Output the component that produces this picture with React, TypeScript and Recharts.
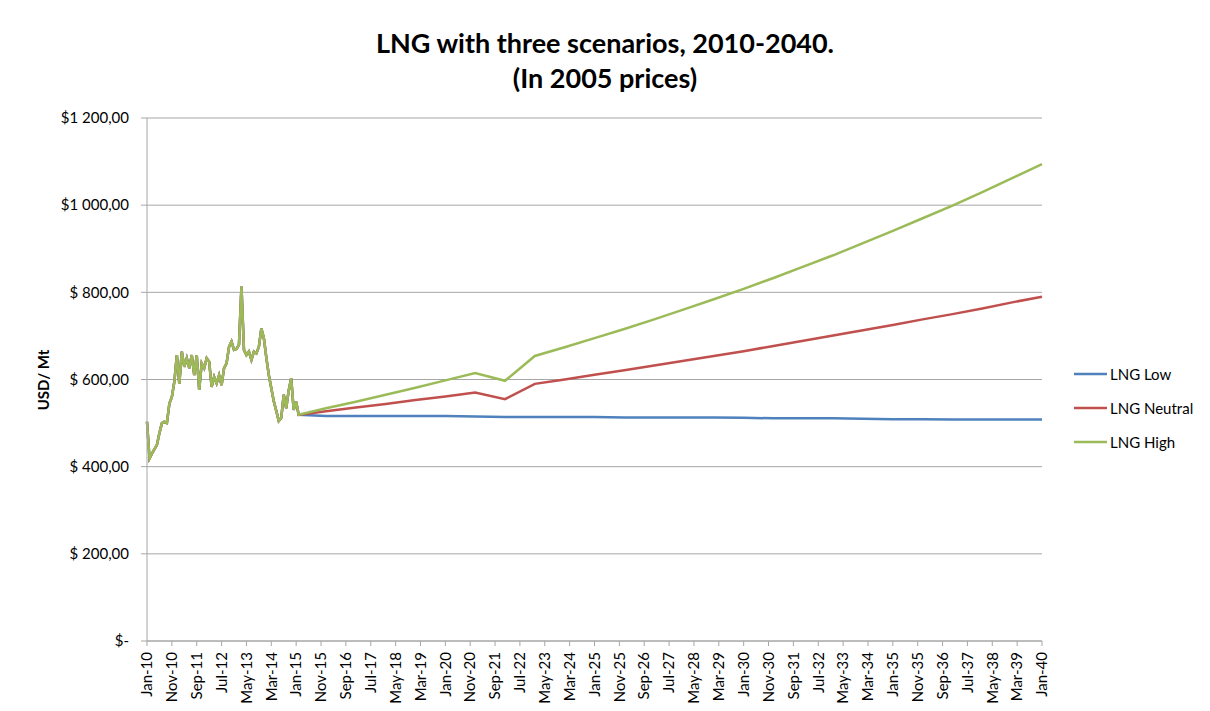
import React from 'react';
import { LineChart, Line, XAxis, YAxis, CartesianGrid } from 'recharts';

// monthly LNG price Jan-10 .. Feb-15 (USD/Mt, 2005 prices), same for all scenarios
const historyPrices = [
  503, 419, 430, 440, 450, 477, 500, 503, 500, 545,
  560, 595, 656, 590, 664, 629, 649, 626, 656, 610,
  656, 576, 637, 626, 649, 641, 583, 606, 591, 610,
  587, 626, 637, 675, 687, 668, 670, 680, 813, 668,
  656, 664, 645, 664, 660, 675, 717, 695, 650, 610,
  580, 550, 528, 505, 512, 565, 534, 575, 603, 530,
  549, 519,
];

// scenario values each January
const projectionYears = [
  2016, 2017, 2018, 2019, 2020, 2021, 2022, 2023, 2024, 2025,
  2026, 2027, 2028, 2029, 2030, 2031, 2032, 2033, 2034, 2035,
  2036, 2037, 2038, 2039, 2040,
];
const lowProjection = [
  516, 516, 516, 516, 516, 515, 514, 514, 514, 514,
  513, 513, 513, 513, 512, 511, 511, 511, 510, 509,
  509, 508, 508, 508, 508,
];
const neutralProjection = [
  527, 536, 544, 553, 561, 570, 555, 590, 600, 611,
  621, 632, 643, 654, 665, 677, 689, 701, 713, 725,
  738, 750, 763, 777, 790,
];
const highProjection = [
  534, 549, 565, 581, 598, 615, 597, 654, 674, 695,
  716, 738, 761, 784, 808, 833, 859, 885, 913, 941,
  970, 999, 1030, 1062, 1094,
];

const yTicks = [0, 200, 400, 600, 800, 1000, 1200];
const xTicks = Array.from({ length: 37 }, (_, i) => i * 10);
const monthNames = ['Jan', 'Feb', 'Mar', 'Apr', 'May', 'Jun', 'Jul', 'Aug', 'Sep', 'Oct', 'Nov', 'Dec'];

const series = [
  { key: 'low', name: 'LNG Low', color: '#4f81bd' },
  { key: 'neutral', name: 'LNG Neutral', color: '#c0504d' },
  { key: 'high', name: 'LNG High', color: '#9bbb59' },
];

const data = [
  ...historyPrices.map((v, i) => ({ m: i, low: v, neutral: v, high: v })),
  ...projectionYears.map((y, i) => ({
    m: (y - 2010) * 12,
    low: lowProjection[i],
    neutral: neutralProjection[i],
    high: highProjection[i],
  })),
];

const FONT = 'Lato, "Open Sans", sans-serif';

const monthLabel = (m: number) => `${monthNames[m % 12]}-${10 + Math.floor(m / 12)}`;

const priceLabel = (v: number) => {
  if (v === 0) return '$-';
  if (v >= 1000) return `$${Math.floor(v / 1000)} ${String(v % 1000).padStart(3, '0')},00`;
  return `$ ${v},00`;
};

const XTick = (props: any) => {
  const { x, y, payload } = props;
  return (
    <text
      x={x}
      y={y}
      dy="0.35em"
      textAnchor="end"
      transform={`rotate(-90, ${x}, ${y})`}
      fontSize={15}
      fontFamily={FONT}
      fill="#000"
    >
      {monthLabel(payload.value)}
    </text>
  );
};

const App: React.FC = () => {
  return (
    <div style={{ position: 'absolute', left: 0, top: 0, width: 1210, height: 711, background: '#fff', fontFamily: FONT }}>
      <div style={{ position: 'absolute', left: 0, top: 25, width: 1210, textAlign: 'center', fontSize: 27, fontWeight: 700, lineHeight: '35px' }}>
        LNG with three scenarios, 2010-2040.
        <br />
        (In 2005 prices)
      </div>
      <div
        style={{
          position: 'absolute',
          left: 43,
          top: 380,
          transform: 'translate(-50%, -50%) rotate(-90deg)',
          fontSize: 15,
          fontWeight: 700,
          whiteSpace: 'nowrap',
        }}
      >
        USD/ Mt
      </div>

      <LineChart width={1210} height={711} data={data} margin={{ top: 118, right: 168, bottom: 0, left: 47 }}>
        <CartesianGrid vertical={false} stroke="#a6a6a6" />
        <XAxis
          type="number"
          dataKey="m"
          domain={[0, 360]}
          ticks={xTicks}
          interval={0}
          height={70}
          tickSize={5}
          tickMargin={6}
          tick={<XTick />}
          stroke="#a6a6a6"
        />
        <YAxis
          domain={[0, 1200]}
          ticks={yTicks}
          width={100}
          tickSize={6}
          tickMargin={12}
          tickFormatter={priceLabel}
          tick={{ fill: '#000', fontSize: 15, fontFamily: FONT }}
          stroke="#a6a6a6"
        />
        {series.map(s => (
          <Line
            key={s.key}
            type="linear"
            dataKey={s.key}
            name={s.name}
            stroke={s.color}
            strokeWidth={2.5}
            dot={false}
            isAnimationActive={false}
          />
        ))}
      </LineChart>

      <div style={{ position: 'absolute', left: 1074, top: 357 }}>
        {series.map(s => (
          <div key={s.key} style={{ display: 'flex', alignItems: 'center', height: 34, fontSize: 15 }}>
            <svg width={36} height={4}>
              <line x1={0} y1={2} x2={33} y2={2} stroke={s.color} strokeWidth={2.5} />
            </svg>
            <span>{s.name}</span>
          </div>
        ))}
      </div>
    </div>
  );
};

export default App;
